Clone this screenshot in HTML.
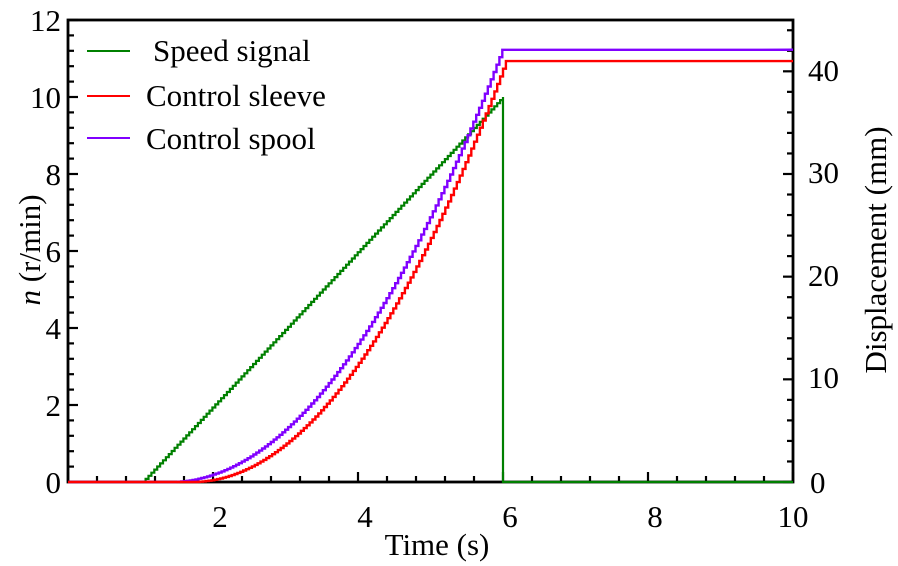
<!DOCTYPE html>
<html><head><meta charset="utf-8"><style>
html,body{margin:0;padding:0;background:#fff;}
svg{display:block;font-family:"Liberation Serif",serif;}
</style></head><body>
<svg id="s" width="898" height="566" viewBox="0 0 898 566" xmlns="http://www.w3.org/2000/svg">
<g id="ticks" stroke="#000" stroke-width="2.2"></g>
<rect x="68" y="20" width="725" height="462" fill="none" stroke="#000" stroke-width="2.8"/>
<path id="pg" fill="none" stroke="#008000" stroke-width="2.2"/>
<path id="pp" fill="none" stroke="#8000ff" stroke-width="2.4"/>
<path id="pr" fill="none" stroke="#ff0000" stroke-width="2.4"/>
<g font-size="31" fill="#000">
<text x="61" y="31" text-anchor="end">12</text>
<text x="61" y="108" text-anchor="end">10</text>
<text x="61" y="185" text-anchor="end">8</text>
<text x="61" y="262" text-anchor="end">6</text>
<text x="61" y="339" text-anchor="end">4</text>
<text x="61" y="416" text-anchor="end">2</text>
<text x="61" y="493" text-anchor="end">0</text>
<text x="220" y="527" text-anchor="middle">2</text>
<text x="365" y="527" text-anchor="middle">4</text>
<text x="510" y="527" text-anchor="middle">6</text>
<text x="655" y="527" text-anchor="middle">8</text>
<text x="793" y="527" text-anchor="middle">10</text>
<text x="808" y="81">40</text>
<text x="808" y="183">30</text>
<text x="808" y="286">20</text>
<text x="808" y="388">10</text>
<text x="810" y="493">0</text>
<text x="437" y="555" text-anchor="middle">Time (s)</text>
<text transform="translate(40,250) rotate(-90)" text-anchor="middle"><tspan font-style="italic">n</tspan> (r/min)</text>
<text transform="translate(886,250) rotate(-90)" text-anchor="middle">Displacement (mm)</text>
<text x="153" y="61">Speed signal</text>
<text x="146" y="106">Control sleeve</text>
<text x="146" y="149">Control spool</text>
</g>
<line x1="87" y1="51" x2="130" y2="51" stroke="#008000" stroke-width="2"/>
<line x1="87" y1="96" x2="130" y2="96" stroke="#ff0000" stroke-width="2"/>
<line x1="87" y1="138" x2="130" y2="138" stroke="#8000ff" stroke-width="2"/>
</svg>
<script>
var X=t=>68+72.5*t, YL=v=>482-38.5*v, YR=d=>482-10.267*d;
var tk='';
for(var i=0;i<=25;i++){var x=X(i*0.4),L=(i%5==0)?10:6;tk+=`<line x1="${x}" y1="482" x2="${x}" y2="${482-L}"/>`;}
for(var i=0;i<=30;i++){var y=YL(i*0.4),L=(i%5==0)?10:6;tk+=`<line x1="68" y1="${y}" x2="${68+L}" y2="${y}"/>`;}
for(var i=0;i<=22;i++){var y=YR(i*2),L=(i%5==0)?10:6;tk+=`<line x1="793" y1="${y}" x2="${793-L}" y2="${y}"/>`;}
document.getElementById('ticks').innerHTML=tk;
function stair(f,t0,t1){var d=`M${X(0)},482 L${X(t0)},482`;var py=482;var n=Math.round((t1-t0)/0.04);
 for(var k=1;k<=n;k++){var t=t0+(t1-t0)*k/n;var x=X(t),y=f(t);d+=` L${x.toFixed(1)},${py.toFixed(1)} L${x.toFixed(1)},${y.toFixed(1)}`;py=y;}
 return d;}
var g=stair(t=>YL(10*(t-1.03)/(6.0-1.03)),1.03,6.0);
g+=` L${X(6.0)},482 L${X(10)},482`;
document.getElementById('pg').setAttribute('d',g);
var p=stair(t=>YR(42.1*Math.pow((t-1.4)/(5.99-1.4),2)),1.4,5.99);
p+=` L${X(10)},${YR(42.1)}`;
document.getElementById('pp').setAttribute('d',p);
var r=stair(t=>YR(41.0*Math.pow((t-1.7)/(6.04-1.7),2)),1.7,6.04);
r+=` L${X(10)},${YR(41.0)}`;
document.getElementById('pr').setAttribute('d',r);
</script>
</body></html>
